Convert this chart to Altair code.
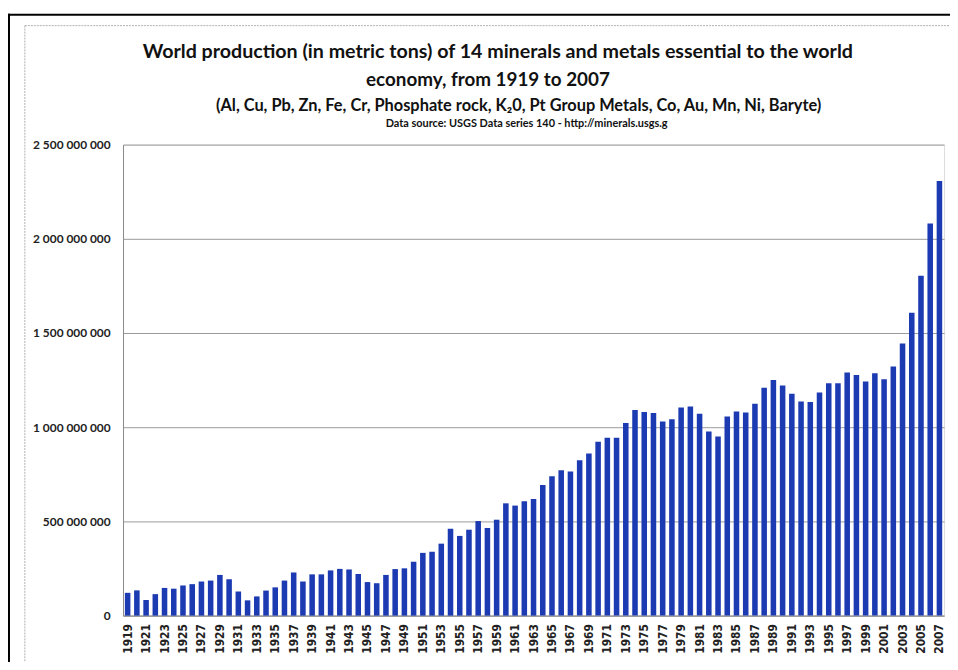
import altair as alt
import pandas as pd

years = list(range(1919, 2008))
# world production, millions of metric tons
production_mt = [
    121, 134, 83, 114, 147, 143, 160, 167, 181, 186,
    216, 193, 128, 81, 102, 133, 150, 186, 229, 181,
    219, 219, 240, 248, 245, 221, 178, 172, 216, 247,
    251, 286, 333, 339, 382, 461, 423, 456, 502, 465,
    509, 596, 584, 607, 619, 693, 740, 772, 765, 825,
    861, 923, 944, 944, 1023, 1091, 1081, 1076, 1030, 1042,
    1104, 1110, 1071, 977, 951, 1057, 1083, 1078, 1124, 1210,
    1251, 1221, 1177, 1136, 1134, 1184, 1233, 1233, 1290, 1277,
    1242, 1286, 1254, 1322, 1445, 1608, 1804, 2081, 2307,
]
tick_years = list(range(1919, 2008, 2))
y_ticks = [0, 500000000, 1000000000, 1500000000, 2000000000, 2500000000]

title_1 = "World production (in metric tons)  of 14 minerals and metals essential to the world"
title_2 = "economy, from 1919 to 2007"
title_3 = "(Al, Cu, Pb, Zn, Fe, Cr, Phosphate rock, K\u20820, Pt Group Metals, Co, Au, Mn, Ni, Baryte)"
title_4 = "Data source: USGS Data series 140 - http://minerals.usgs.g"

df = pd.DataFrame({"year": years, "tons": [v * 1_000_000 for v in production_mt]})
one = pd.DataFrame({"k": [0]})

XFONT = "DejaVu Sans Condensed, sans-serif"
TFONT = "Lato, sans-serif"

bars = alt.Chart(df).mark_bar(color="#1c3ab2").encode(
    x=alt.X(
        "year:O",
        scale=alt.Scale(paddingInner=0.4, paddingOuter=0.2),
        axis=alt.Axis(
            values=tick_years, labelAngle=-90, title=None, ticks=False,
            domainColor="#8a8a8a", labelFont=XFONT, labelFontSize=12,
            labelFontWeight="bold", labelColor="#222222", labelPadding=8,
        ),
    ),
    y=alt.Y(
        "tons:Q",
        scale=alt.Scale(domain=[0, 2500000000], nice=False),
        axis=alt.Axis(
            values=y_ticks, title=None, ticks=False, grid=True,
            gridColor="#9a9a9a", domainColor="#8a8a8a",
            labelExpr="replace(format(datum.value, ','), /,/g, ' ')",
            labelFont=TFONT, labelFontSize=12, labelFontWeight="bold",
            labelColor="#222222", labelPadding=13,
        ),
    ),
)

frame_top = alt.Chart(one).mark_rule(color="black", strokeWidth=2).encode(
    x=alt.value(-116), x2=alt.value(1000), y=alt.value(-131)
)
frame_left = alt.Chart(one).mark_rule(color="black", strokeWidth=2).encode(
    x=alt.value(-115), y=alt.value(-132), y2=alt.value(700)
)
inner_top = alt.Chart(one).mark_rule(color="#b0b0b0", strokeWidth=1, strokeDash=[2, 1]).encode(
    x=alt.value(-99), x2=alt.value(1000), y=alt.value(-120)
)
inner_left = alt.Chart(one).mark_rule(color="#b0b0b0", strokeWidth=1, strokeDash=[2, 1]).encode(
    x=alt.value(-99), y=alt.value(-120), y2=alt.value(700)
)


def text_layer(txt, xx, yy, size):
    return alt.Chart(one).mark_text(
        text=txt, font=TFONT, fontWeight="bold", fontSize=size,
        color="#111111", align="center", baseline="middle",
    ).encode(x=alt.value(xx), y=alt.value(yy))


chart = alt.layer(
    frame_top, frame_left, inner_top, inner_left, bars,
    text_layer(title_1, 378, -93, 19.8),
    text_layer(title_2, 368, -65, 19),
    text_layer(title_3, 399, -39, 16.5),
    text_layer(title_4, 407, -21, 11),
).properties(
    width=828, height=475,
    autosize=alt.AutoSizeParams(type="none"),
    padding={"left": 116, "top": 135, "right": 6, "bottom": 44},
).configure_view(stroke=None).configure(background="white")

chart.save("out.html", embed_options={"renderer": "svg", "actions": False})
